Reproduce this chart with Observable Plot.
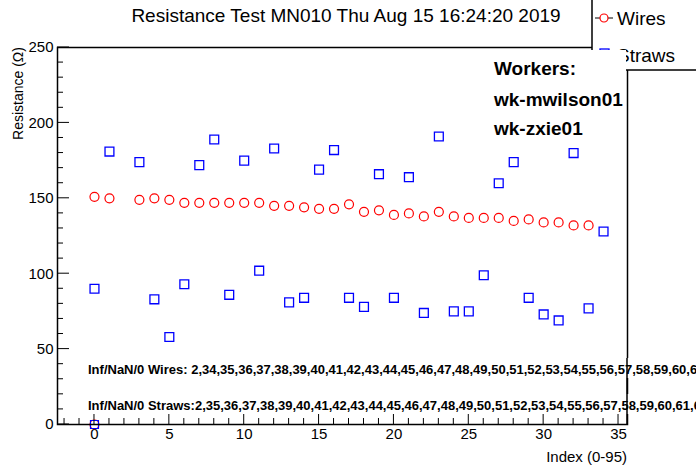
<!DOCTYPE html>
<html><head><meta charset="utf-8">
<script src="https://cdn.jsdelivr.net/npm/d3@7"></script>
<script src="https://cdn.jsdelivr.net/npm/@observablehq/plot@0.6"></script>
<style>body{margin:0;background:#fff}</style>
</head><body><div id="chart"></div>
<script>
const wireIdx = [0,1,3,4,5,6,7,8,9,10,11,12,13,14,15,16,17,18,19,20,21,22,23,24,25,26,27,28,29,30,31,32,33];
const wireVal = [151,150,149,150,149,147,147,147,147,147,147,145,145,144,143,143,146,141,142,139,140,138,141,138,137,137,137,135,136,134,134,132,132];
const strawIdx = [0,1,3,4,5,6,7,8,9,10,11,12,13,14,15,16,17,18,19,20,21,22,23,24,25,26,27,28,29,30,31,32,33,34];
const strawVal = [90,181,174,83,58,93,172,189,86,175,102,183,81,84,169,182,84,78,166,84,164,74,191,75,75,99,160,174,84,73,69,180,77,128];
const zeroPts = [{x: 0, y: 0}];
const yMajor = [0,50,100,150,200,250];
const yMinor = d3.range(0,251,10);
const xMajor = [0,5,10,15,20,25,30,35];
const xMinor = d3.range(-2,36,1);
const infWires = "Inf/NaN/0 Wires: 2,34,35,36,37,38,39,40,41,42,43,44,45,46,47,48,49,50,51,52,53,54,55,56,57,58,59,60,61,62,63";
const infStraws = "Inf/NaN/0 Straws:2,35,36,37,38,39,40,41,42,43,44,45,46,47,48,49,50,51,52,53,54,55,56,57,58,59,60,61,62,63";

const wires = wireIdx.map((x,i)=>({x, y: wireVal[i]}));
const straws = strawIdx.map((x,i)=>({x, y: strawVal[i]}));

const font = "Liberation Sans, Arial, sans-serif";
const narrow = "Liberation Sans Narrow, " + font;
const chart = Plot.plot({
  width: 696, height: 472,
  marginLeft: 57, marginRight: 69, marginTop: 47, marginBottom: 48,
  x: {domain: [-2.47, 35.6]},
  y: {domain: [0, 250]},
  style: {fontFamily: font, fontSize: 15, color: "#000", background: "#fff"},
  marks: [
    Plot.axisY({ticks: yMajor, tickSize: 0, tickPadding: 4, label: null, fontSize: 15}),
    Plot.axisX({ticks: xMajor, tickSize: 0, tickPadding: 4, label: null, fontSize: 15}),
    Plot.dot(zeroPts, {x: "x", y: "y", symbol: "circle", r: 4.5, stroke: "red", strokeWidth: 1.2}),
    Plot.dot(zeroPts, {x: "x", y: "y", symbol: "square", r: 4.5, stroke: "blue", strokeWidth: 1.2}),
    Plot.dot(wires, {x: "x", y: "y", symbol: "circle", r: 4.5, stroke: "red", strokeWidth: 1.2}),
    Plot.dot(straws, {x: "x", y: "y", symbol: "square", r: 5, stroke: "blue", strokeWidth: 1.3}),
    Plot.frame({stroke: "#000", strokeWidth: 1.5})
  ]
});
document.getElementById("chart").append(chart);

const sx = chart.scale("x"), sy = chart.scale("y");
const svg = d3.select(chart);
const x0 = sx.apply(-2.47), y0 = sy.apply(0);
const tk = svg.append("g").attr("stroke", "#000").attr("stroke-width", 1);
yMinor.forEach(v => tk.append("line").attr("x1", x0).attr("x2", x0 + (v % 50 ? 6 : 12))
  .attr("y1", sy.apply(v)).attr("y2", sy.apply(v)));
xMinor.forEach(v => tk.append("line").attr("y1", y0).attr("y2", y0 - (v % 5 ? 6 : 12))
  .attr("x1", sx.apply(v)).attr("x2", sx.apply(v)));

const txt = (x, y, t, size, opts = {}) => svg.append("text").attr("x", x).attr("y", y)
  .attr("text-anchor", opts.anchor || "start").attr("font-family", opts.family || font)
  .attr("font-weight", opts.weight || "normal").attr("font-size", size).attr("fill", "#000").text(t);

txt(346, 22, "Resistance Test MN010 Thu Aug 15 16:24:20 2019", 19, {anchor: "middle"});
svg.append("text").attr("transform", "translate(23,47) rotate(-90)").attr("text-anchor", "end")
  .attr("font-family", font).attr("font-size", 14).text("Resistance (\u03a9)");
txt(627, 462, "Index (0-95)", 15, {anchor: "end", family: narrow});

// legend box
svg.append("rect").attr("x", 592).attr("y", -2).attr("width", 110).attr("height", 72)
  .attr("fill", "#fff").attr("stroke", "#000").attr("stroke-width", 1.5);
svg.append("line").attr("x1", 595).attr("x2", 613).attr("y1", 18).attr("y2", 18).attr("stroke", "#000");
svg.append("circle").attr("cx", 604).attr("cy", 18).attr("r", 4).attr("fill", "#fff").attr("stroke", "red").attr("stroke-width", 1.2);
txt(617, 25, "Wires", 19);
svg.append("rect").attr("x", 600).attr("y", 49).attr("width", 9).attr("height", 9).attr("fill", "none").attr("stroke", "blue").attr("stroke-width", 1.3);
txt(617, 62, "Straws", 19);

// workers box (white, no border)
svg.append("rect").attr("x", 490).attr("y", 50).attr("width", 136).attr("height", 93).attr("fill", "#fff");
txt(494, 75, "Workers:", 19, {weight: "bold"});
txt(494, 106, "wk-mwilson01", 19, {weight: "bold"});
txt(494, 135, "wk-zxie01", 19, {weight: "bold"});

// inf/nan boxes
svg.append("rect").attr("x", 86).attr("y", 358).attr("width", 620).attr("height", 20).attr("fill", "#fff");
svg.append("rect").attr("x", 86).attr("y", 394).attr("width", 620).attr("height", 20).attr("fill", "#fff");
txt(88, 374, infWires, 13, {weight: "bold", family: narrow});
txt(88, 410, infStraws, 13, {weight: "bold", family: narrow});
svg.append("line").attr("x1", 627).attr("x2", 627).attr("y1", 358).attr("y2", 424).attr("stroke", "#000").attr("stroke-width", 1.5);
</script></body></html>
